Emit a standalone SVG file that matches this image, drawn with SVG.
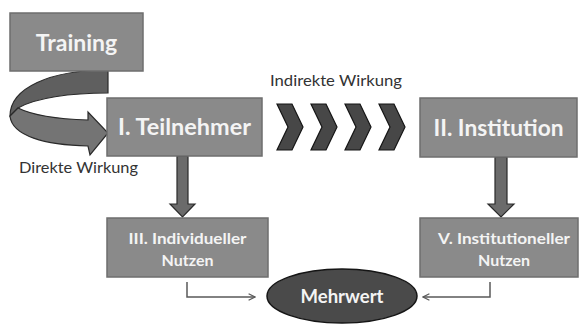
<svg xmlns="http://www.w3.org/2000/svg" width="585" height="324" viewBox="0 0 585 324">
<defs>
<style>
.box{fill:#8a8a8a;stroke:#6e6e6e;stroke-width:1.5}
.big{font-family:Lato,"Open Sans",sans-serif;font-weight:bold;font-size:23px;fill:#f4f4f4;text-anchor:middle}
.mid{font-family:Lato,"Open Sans",sans-serif;font-weight:bold;font-size:16px;fill:#f4f4f4;text-anchor:middle}
.lbl{font-family:Lato,"Open Sans",sans-serif;font-size:15px;fill:#333}
.chev{fill:#474747;stroke:#151515;stroke-width:1.2;stroke-linejoin:miter}
.fat{fill:#6b6b6b;stroke:#2a2a2a;stroke-width:1.2}
.thin{fill:none;stroke:#5a5a5a;stroke-width:1.5}
</style>
<marker id="ah" viewBox="0 0 10 10" refX="9" refY="5" markerWidth="8" markerHeight="8" markerUnits="userSpaceOnUse" orient="auto">
<path d="M1,1 L9,5 L1,9" fill="none" stroke="#5a5a5a" stroke-width="1.6"/>
</marker>
</defs>
<rect width="585" height="324" fill="#ffffff"/>

<g id="connectors">
<path id="curve-back" class="fat" fill="#5f5f5f" d="M108,70 C50,70 10,88 10,116 L18,108 C35,98 70,93 108,93 Z" style="fill:#5f5f5f"/>
<path id="curve-front" class="fat" d="M10,116 C12,136 45,145 88,146 L90,155 L108,133 L88,112 L88,120 C55,119 30,114 18,108 Z" style="fill:#747474"/>
<g id="chevrons">
<polygon class="chev" points="277,104 292,104 303,127 292,150 277,150 288,127"/>
<polygon class="chev" points="311,104 326,104 337,127 326,150 311,150 322,127"/>
<polygon class="chev" points="345,104 360,104 371,127 360,150 345,150 356,127"/>
<polygon class="chev" points="379,104 394,104 405,127 394,150 379,150 390,127"/>
</g>
<polygon id="arrow-left" class="fat" points="177,156 188,156 188,204 195,204 182.5,217 170,204 177,204"/>
<polygon id="arrow-right" class="fat" points="495,157 507,157 507,204 514,204 501,217 488,204 495,204"/>
<path id="conn-left" class="thin" d="M187,282 V297 H255" marker-end="url(#ah)"/>
<path id="conn-right" class="thin" d="M490,282 V297 H423" marker-end="url(#ah)"/>
</g>

<g id="training">
<rect class="box" x="10" y="13" width="133" height="58"/>
<text class="big" x="76.5" y="51">Training</text>
</g>
<g id="teilnehmer">
<rect class="box" x="107" y="98" width="155" height="58"/>
<text class="big" x="184.5" y="135" textLength="133" lengthAdjust="spacingAndGlyphs">I. Teilnehmer</text>
</g>
<g id="institution">
<rect class="box" x="420" y="98" width="157" height="59"/>
<text class="big" x="498.5" y="136" textLength="130" lengthAdjust="spacingAndGlyphs">II. Institution</text>
</g>
<g id="individueller">
<rect class="box" x="107" y="218" width="161" height="59"/>
<text class="mid" x="187.5" y="244" textLength="118" lengthAdjust="spacingAndGlyphs">III. Individueller</text>
<text class="mid" x="187.5" y="266">Nutzen</text>
</g>
<g id="institutioneller">
<rect class="box" x="420" y="218" width="158" height="59"/>
<text class="mid" x="504" y="244" textLength="132" lengthAdjust="spacingAndGlyphs">V. Institutioneller</text>
<text class="mid" x="504" y="266">Nutzen</text>
</g>
<g id="mehrwert">
<ellipse cx="342" cy="296" rx="75" ry="27" fill="#4a4a4a" stroke="#151515" stroke-width="1.5"/>
<text class="mid" x="342" y="303" style="font-size:19px" textLength="83" lengthAdjust="spacingAndGlyphs">Mehrwert</text>
</g>
<g id="labels">
<text id="direkte" class="lbl" x="19" y="173" textLength="119" lengthAdjust="spacingAndGlyphs">Direkte Wirkung</text>
<text id="indirekte" class="lbl" x="270" y="86" textLength="132" lengthAdjust="spacingAndGlyphs">Indirekte Wirkung</text>
</g>
</svg>
